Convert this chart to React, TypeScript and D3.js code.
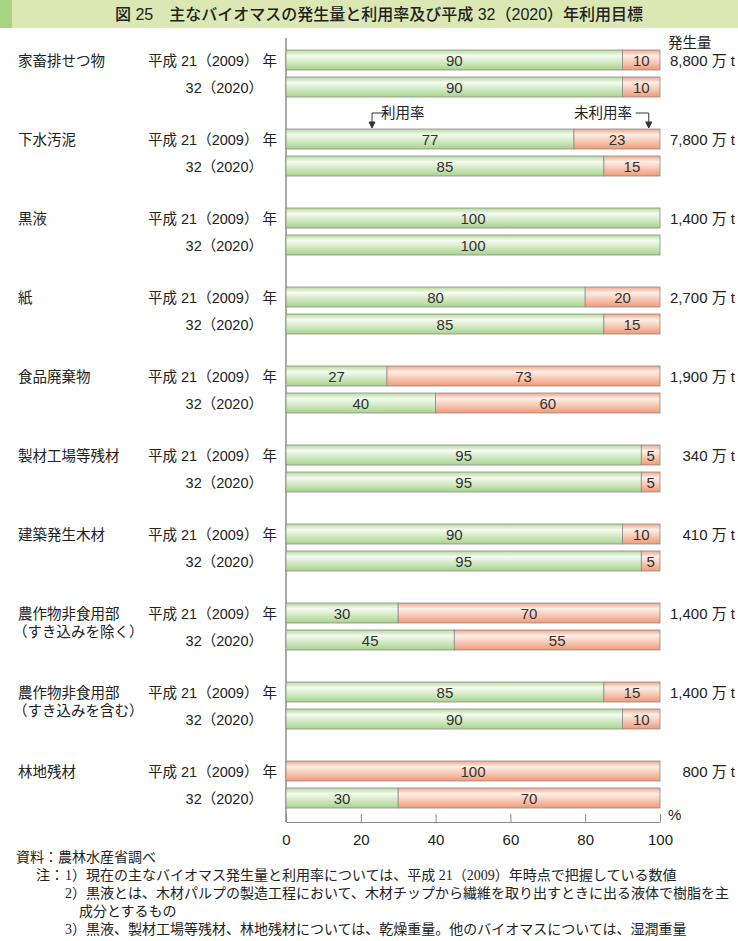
import { useRef, useEffect } from "react";
import * as d3 from "d3";

const categories = [
  "家畜排せつ物",
  "下水汚泥",
  "黒液",
  "紙",
  "食品廃棄物",
  "製材工場等残材",
  "建築発生木材",
  "農作物非食用部\n（すき込みを除く）",
  "農作物非食用部\n（すき込みを含む）",
  "林地残材",
];
const used2009 = [90, 77, 100, 80, 27, 95, 90, 30, 85, 0];
const used2020 = [90, 85, 100, 85, 40, 95, 95, 45, 90, 30];
const totals = ["8,800", "7,800", "1,400", "2,700", "1,900", "340", "410", "1,400", "1,400", "800"];
const yearLabels = ["平成 21（2009） 年", "32（2020）"];
const xTicks = [0, 20, 40, 60, 80, 100];
// [x, y, text]
const notes: [number, number, string][] = [
  [16, 862, "資料：農林水産省調べ"],
  [36, 880, "注："],
  [65, 880, "1）現在の主なバイオマス発生量と利用率については、平成 21（2009）年時点で把握している数値"],
  [65, 898, "2）黒液とは、木材パルプの製造工程において、木材チップから繊維を取り出すときに出る液体で樹脂を主"],
  [79, 916, "成分とするもの"],
  [65, 934, "3）黒液、製材工場等残材、林地残材については、乾燥重量。他のバイオマスについては、湿潤重量"],
];

const FONT = "'Liberation Sans', 'Noto Sans CJK JP', sans-serif";
const NOTE_FONT = "'Liberation Serif', 'Noto Sans CJK JP', serif";

export default function App() {
  const svgRef = useRef<SVGSVGElement>(null);

  useEffect(() => {
    document.body.style.margin = "0";
    if (!svgRef.current) return;
    const width = 738;
    const height = 941;
    const svg = d3.select(svgRef.current);
    svg.selectAll("*").remove();
    svg.attr("width", width).attr("height", height).style("font-family", FONT);

    const defs = svg.append("defs");
    const grad = (id: string, stops: [number, string][]) => {
      const g = defs.append("linearGradient").attr("id", id).attr("x1", 0).attr("y1", 0).attr("x2", 0).attr("y2", 1);
      stops.forEach(([o, c]) => g.append("stop").attr("offset", `${o}%`).attr("stop-color", c));
    };
    grad("g-green", [[0, "#b3d99a"], [28, "#f6fbf2"], [100, "#a8d38c"]]);
    grad("g-orange", [[0, "#f4a483"], [28, "#fdf0e8"], [100, "#f19a77"]]);

    // title band
    svg.append("rect").attr("x", 0).attr("y", 0).attr("width", width).attr("height", 28).attr("fill", "#dbe8b3");
    svg.append("rect").attr("x", 0).attr("y", 0).attr("width", 12).attr("height", 28).attr("fill", "#a9d384");
    svg.append("text")
      .attr("x", 115).attr("y", 20)
      .style("font-size", "16px").style("font-weight", "500").attr("fill", "#222")
      .text("図 25　主なバイオマスの発生量と利用率及び平成 32（2020）年利用目標");

    const x = d3.scaleLinear().domain([0, 100]).range([286, 660]);
    const y = d3.scaleBand<string>().domain(categories).range([36, 826]);
    const barH = 20;
    const axisY = 822;
    const fs = "14.5px";
    const fsNum = "15px";

    // left axis line
    svg.append("line").attr("x1", x(0)).attr("x2", x(0)).attr("y1", 38).attr("y2", axisY)
      .attr("stroke", "#aaa").attr("stroke-width", 2);

    const rows = categories.flatMap((c, i) => [
      { cat: c, i, k: 0, used: used2009[i] },
      { cat: c, i, k: 1, used: used2020[i] },
    ]);
    const rowTop = (r: { cat: string; k: number }) => (y(r.cat) ?? 0) + 14 + r.k * 27;

    const g = svg.append("g");
    rows.forEach((r) => {
      const top = rowTop(r);
      const segs = [
        { v0: 0, v1: r.used, fill: "url(#g-green)" },
        { v0: r.used, v1: 100, fill: "url(#g-orange)" },
      ].filter((s) => s.v1 > s.v0);
      segs.forEach((s) => {
        g.append("rect")
          .attr("x", x(s.v0)).attr("y", top)
          .attr("width", x(s.v1) - x(s.v0)).attr("height", barH)
          .attr("fill", s.fill).attr("stroke", "#8c8c8c").attr("stroke-width", 0.8);
        g.append("text")
          .attr("x", (x(s.v0) + x(s.v1)) / 2).attr("y", top + barH / 2 + 5.5)
          .attr("text-anchor", "middle").style("font-size", fsNum).attr("fill", "#333")
          .text(s.v1 - s.v0);
      });
      // year label
      g.append("text")
        .attr("x", r.k === 0 ? 148 : 263).attr("y", top + barH / 2 + 5.5)
        .attr("text-anchor", r.k === 0 ? "start" : "end")
        .style("font-size", fs).attr("fill", "#222")
        .text(yearLabels[r.k]);
    });

    // category labels and totals
    categories.forEach((c, i) => {
      c.split("\n").forEach((line, j) => {
        g.append("text").attr("x", j === 0 ? 18 : 13).attr("y", (y(c) ?? 0) + 29.5 + j * 18)
          .style("font-size", fs).attr("fill", "#222").text(line);
      });
      g.append("text").attr("x", 735).attr("y", (y(c) ?? 0) + 29.5).attr("text-anchor", "end")
        .style("font-size", fsNum).attr("fill", "#222").text(`${totals[i]} 万  t`);
    });

    svg.append("text").attr("x", 668).attr("y", 48).style("font-size", fs).attr("fill", "#222").text("発生量");

    // annotations
    const ay = 117;
    const ann = svg.append("g").attr("stroke", "#333").attr("fill", "none").attr("stroke-width", 1);
    ann.append("path").attr("d", `M${x(25.5) + 8},${ay - 4} H${x(23)} V${ay + 8}`);
    ann.append("path").attr("d", `M${x(23) - 3},${ay + 5} L${x(23)},${ay + 11} L${x(23) + 3},${ay + 5} Z`).attr("fill", "#333");
    ann.append("path").attr("d", `M${x(93.5)},${ay - 4} H${x(97)} V${ay + 8}`);
    ann.append("path").attr("d", `M${x(97) - 3},${ay + 5} L${x(97)},${ay + 11} L${x(97) + 3},${ay + 5} Z`).attr("fill", "#333");
    svg.append("text").attr("x", 381).attr("y", ay + 1).style("font-size", fs).attr("fill", "#222").text("利用率");
    svg.append("text").attr("x", 632).attr("y", ay + 1).attr("text-anchor", "end").style("font-size", fs).attr("fill", "#222").text("未利用率");

    // bottom axis
    const axis = svg.append("g").attr("transform", `translate(0,${axisY})`)
      .call(d3.axisBottom(x).tickValues(xTicks).tickSize(-8).tickPadding(12).tickSizeOuter(0));
    axis.select(".domain").attr("stroke", "#888");
    axis.selectAll(".tick line").attr("stroke", "#888");
    axis.selectAll(".tick text").style("font-size", fsNum).style("font-family", FONT).attr("fill", "#222");
    svg.append("text").attr("x", 668).attr("y", 820).style("font-size", fsNum).attr("fill", "#222").text("%");

    // notes
    notes.forEach(([nx, ny, n]) => {
      svg.append("text").attr("x", nx).attr("y", ny).style("font-size", "14px")
        .style("font-family", NOTE_FONT).attr("fill", "#222").text(n);
    });
  }, []);

  return <svg ref={svgRef} style={{ display: "block" }} />;
}
